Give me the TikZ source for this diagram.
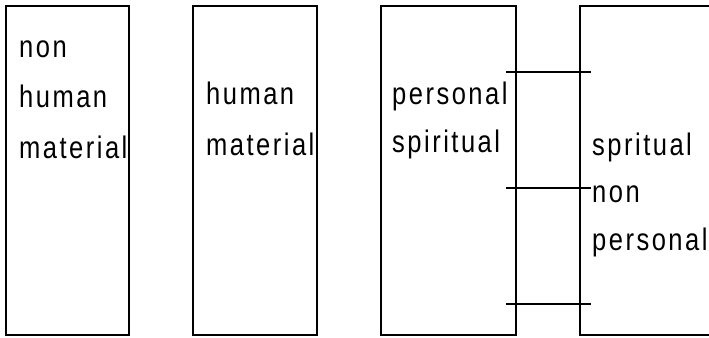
\documentclass[tikz,border=0pt]{standalone}
\usepackage{fontspec}
\setmainfont{Liberation Sans}[FakeStretch=0.82,LetterSpace=8]
\usepackage{tikz}
\usetikzlibrary{positioning,calc}

\begin{document}
\begin{tikzpicture}[
    panel/.style={rectangle, draw, line width=2pt, minimum height=11.53cm, inner sep=0pt},
    word/.style={anchor=base west, align=left, inner sep=0pt, font=\fontsize{31pt}{50pt}\selectfont},
    tie/.style={line width=2pt}
]
\clip (0,0) rectangle (24.815,11.795);
\useasboundingbox (0,0) rectangle (24.815,11.795);

% Panels
\node[panel, minimum width=4.32cm] (nonhuman) at (2.37,5.835) {};
\node[panel, minimum width=4.34cm] (human) at (8.925,5.835) {};
\node[panel, minimum width=4.725cm] (personal) at (15.70,5.835) {};
\node[panel, minimum width=6cm] (nonpersonal) at (23.3,5.835) {};

% Labels (anchored at the last line)
\node[word] (w1) at (0.665,6.265) {non\\human\\material};
\node[word] (w2) at (7.21,6.37) {human\\material};
\node[word, font=\fontsize{31pt}{47pt}\selectfont] (w3) at (13.72,6.475) {personal\\spiritual};
\node[word, font=\fontsize{31pt}{47pt}\selectfont] (w4) at (20.72,3.045) {spritual\\non\\personal};

% Ties between the spiritual panels
\draw[tie, shorten <=-0.385cm, shorten >=-0.42cm] (personal.east |- 0,9.275) -- (nonpersonal.west |- 0,9.275);
\draw[tie, shorten <=-0.385cm, shorten >=-0.42cm] (personal.east |- 0,5.215) -- (nonpersonal.west |- 0,5.215);
\draw[tie, shorten <=-0.385cm, shorten >=-0.42cm] (personal.east |- 0,1.155) -- (nonpersonal.west |- 0,1.155);

\end{tikzpicture}
\end{document}
